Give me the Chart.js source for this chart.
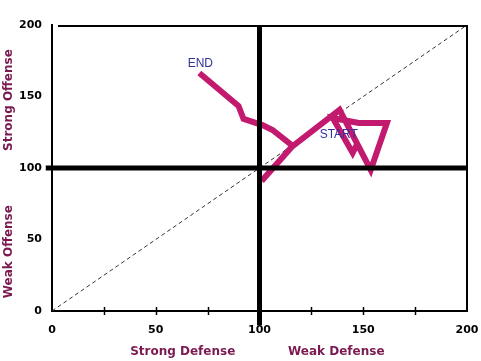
<!DOCTYPE html>
<html>
<head>
<meta charset="utf-8">
<script src="https://cdn.jsdelivr.net/npm/chart.js@4.4.1/dist/chart.umd.min.js"></script>
<style>
  body { margin: 0; background: #fff; }
  canvas { display: block; }
</style>
</head>
<body>
<canvas id="myChart" width="481" height="361"></canvas>
<script>
// path of the team, from START to END
const pathX = [147.3, 144.9, 135.3, 147.8, 161.4, 153.6, 138.6, 115.5, 101, 116, 106.3, 101.4, 92.3, 89.9, 71];
const pathY = [117.5, 110.5, 135, 131.5, 131.5, 98.6, 140.6, 114.7, 90.9, 115.4, 126.6, 130, 134.3, 143.4, 166.4];
const tickValues = [0, 50, 100, 150, 200];
const minorTicks = [25, 50, 75, 125, 150, 175];

const pathColor = '#c21a6e';
const titleColor = '#7a1a50';
const labelColor = '#3030a0';

const pathPoints = pathX.map((x, i) => ({ x: x, y: pathY[i] }));

// extra drawing: frame, minor ticks, axis titles, START/END labels
const extras = {
    id: 'extras',
    afterDatasetsDraw(chart) {
        const ctx = chart.ctx;
        const area = chart.chartArea;
        const xs = chart.scales.x;
        const ys = chart.scales.y;
        ctx.save();

        // top and right frame
        ctx.strokeStyle = '#000';
        ctx.lineWidth = 2;
        ctx.beginPath();
        ctx.moveTo(area.left + 6, area.top + 1);
        ctx.lineTo(area.right, area.top + 1);
        ctx.lineTo(area.right, area.bottom);
        ctx.stroke();

        // tick marks crossing the x axis
        ctx.lineWidth = 1.5;
        minorTicks.forEach(v => {
            const px = Math.round(xs.getPixelForValue(v)) + 0.5;
            ctx.beginPath();
            ctx.moveTo(px, area.bottom - 4);
            ctx.lineTo(px, area.bottom + 4);
            ctx.stroke();
        });

        // START / END
        ctx.fillStyle = labelColor;
        ctx.font = '12px "Liberation Sans", Arial, sans-serif';
        ctx.textAlign = 'center';
        ctx.textBaseline = 'middle';
        ctx.fillText('END', xs.getPixelForValue(71.5), ys.getPixelForValue(172.7));
        ctx.fillText('START', xs.getPixelForValue(138.2), ys.getPixelForValue(123));

        // axis titles
        ctx.fillStyle = titleColor;
        ctx.font = 'bold 12px "DejaVu Sans", sans-serif';
        ctx.fillText('Strong Defense', xs.getPixelForValue(63), 352);
        ctx.fillText('Weak Defense', xs.getPixelForValue(137), 352);

        [['Strong Offense', 147.5], ['Weak Offense', 41.5]].forEach(t => {
            ctx.save();
            ctx.translate(9, ys.getPixelForValue(t[1]));
            ctx.rotate(-Math.PI / 2);
            ctx.fillText(t[0], 0, 0);
            ctx.restore();
        });

        ctx.restore();
    }
};

const tickFont = { family: '"DejaVu Sans", sans-serif', size: 11, weight: 'bold' };

new Chart(document.getElementById('myChart'), {
    type: 'scatter',
    data: {
        datasets: [
            {
                data: [{ x: 100, y: -10 }, { x: 100, y: 200 }],
                showLine: true, borderColor: '#000', borderWidth: 5,
                pointRadius: 0, clip: false
            },
            {
                data: [{ x: -3, y: 100 }, { x: 200, y: 100 }],
                showLine: true, borderColor: '#000', borderWidth: 5,
                pointRadius: 0, clip: false
            },
            {
                data: pathPoints,
                showLine: true, borderColor: pathColor, borderWidth: 6,
                pointRadius: 0, tension: 0, borderJoinStyle: 'miter'
            },
            {
                data: [{ x: 0, y: 0 }, { x: 200, y: 200 }],
                showLine: true, borderColor: '#333', borderWidth: 1,
                borderDash: [4, 3], pointRadius: 0
            }
        ]
    },
    options: {
        responsive: false,
        animation: false,
        layout: { padding: { top: 25, right: 14, left: 0, bottom: 0 } },
        plugins: { legend: { display: false }, tooltip: { enabled: false } },
        scales: {
            x: {
                min: 0, max: 200,
                afterFit(s) { s.height = 50; s.paddingLeft = 0; s.paddingRight = 0; },
                afterBuildTicks(s) { s.ticks = tickValues.map(v => ({ value: v })); },
                grid: { display: false, drawTicks: false },
                border: { display: true, color: '#000', width: 2 },
                ticks: { font: tickFont, color: '#000', padding: 13, maxRotation: 0 }
            },
            y: {
                min: 0, max: 200,
                afterFit(s) { s.width = 52; s.paddingTop = 0; s.paddingBottom = 0; },
                afterBuildTicks(s) { s.ticks = tickValues.map(v => ({ value: v })); },
                grid: { display: false, drawTicks: false },
                border: { display: true, color: '#000', width: 2 },
                ticks: { font: tickFont, color: '#000', padding: 10 }
            }
        }
    },
    plugins: [extras]
});
</script>
</body>
</html>
